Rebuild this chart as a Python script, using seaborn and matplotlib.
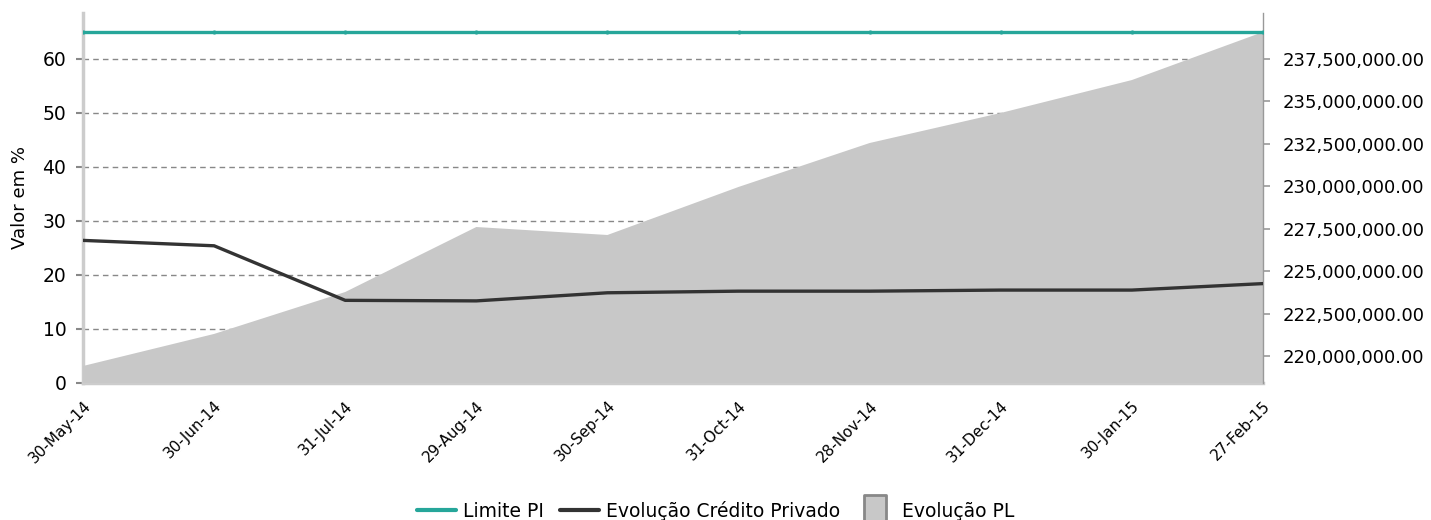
import numpy as np
import pandas as pd
import matplotlib
matplotlib.use("Agg")
import matplotlib.pyplot as plt
import seaborn as sns
from matplotlib.lines import Line2D
from matplotlib.ticker import FuncFormatter

# data
datas = ["30-May-14", "30-Jun-14", "31-Jul-14", "29-Aug-14", "30-Sep-14",
         "31-Oct-14", "28-Nov-14", "31-Dec-14", "30-Jan-15", "27-Feb-15"]
limite_pl = [65, 65, 65, 65, 65, 65, 65, 65, 65, 65]
credito_privado = [26.4, 25.4, 15.3, 15.2, 16.7, 17.0, 17.0, 17.2, 17.2, 18.4]
evolucao_pl = [219.41e6, 221.30e6, 223.77e6, 227.60e6, 227.13e6,
               229.96e6, 232.55e6, 234.32e6, 236.26e6, 239.09e6]

df = pd.DataFrame({"pos": np.arange(len(datas)), "data": datas,
                   "limite": limite_pl, "credito": credito_privado, "pl": evolucao_pl})

sns.set_style("white")
plt.rcParams["font.family"] = ["DejaVu Sans"]
plt.rcParams["text.color"] = "black"
plt.rcParams["axes.labelcolor"] = "black"

teal = "#26a69a"
dark = "#333333"
area = "#c8c8c8"

fig = plt.figure(figsize=(14.31, 5.2), dpi=100)
ax = fig.add_axes([0.058, 0.2635, 0.8246, 0.7115])

# bottom layer: grid on the percent axis
ax.set_ylim(0, 68.5)
ax.set_xlim(0, len(datas) - 1)
ax.set_yticks([0, 10, 20, 30, 40, 50, 60])
for v in [10, 20, 30, 40, 50, 60]:
    ax.axhline(v, color="#888888", linestyle=(0, (4, 3)), linewidth=1, zorder=0)

# middle layer: patrimonio area on the right axis
ax2 = ax.twinx()
ax2.fill_between(df["pos"], 0, df["pl"], color=area, linewidth=0)
ax2.set_ylim(218.41e6, 240.21e6)
ax2.set_yticks([220e6, 222.5e6, 225e6, 227.5e6, 230e6, 232.5e6, 235e6, 237.5e6])
ax2.yaxis.set_major_formatter(FuncFormatter(lambda v, p: f"{v:,.2f}"))

# top layer: the percent lines
ax3 = ax.twinx()
ax3.set_ylim(0, 68.5)
sns.lineplot(data=df, x="pos", y="limite", ax=ax3, color=teal, linewidth=2.4,
             marker="o", markersize=3, markeredgewidth=0)
sns.lineplot(data=df, x="pos", y="credito", ax=ax3, color=dark, linewidth=2.4)
ax3.set_xlim(0, len(datas) - 1)
ax3.set_yticks([])
ax3.set_ylabel("")
ax3.set_xlabel("")
for s in ax3.spines.values():
    s.set_visible(False)

ax.set_xticks(df["pos"])
ax.set_xticklabels(datas, rotation=45, ha="right", rotation_mode="anchor", fontsize=11)
ax.tick_params(axis="x", length=5, width=1.5, color="#888888", labelcolor="black", pad=6)
ax.tick_params(axis="y", length=5, width=1.5, color="#888888", labelcolor="black",
               labelsize=13.5, pad=7)
ax2.tick_params(axis="y", length=5, width=1.2, color="#999999", labelcolor="black",
                labelsize=13, pad=9)
ax.set_ylabel("Valor em %", fontsize=13, labelpad=10)

for a in (ax, ax2):
    a.spines["top"].set_visible(False)
ax.spines["left"].set_color("#cccccc")
ax.spines["left"].set_linewidth(2.5)
ax.spines["bottom"].set_color("#cccccc")
ax.spines["bottom"].set_linewidth(2.5)
ax.spines["right"].set_visible(False)
ax2.spines["left"].set_visible(False)
ax2.spines["bottom"].set_visible(False)
ax2.spines["right"].set_color("#999999")
ax2.spines["right"].set_linewidth(1)

tall_box = [(-0.4, -0.55), (0.4, -0.55), (0.4, 0.55), (-0.4, 0.55), (-0.4, -0.55)]
handles = [Line2D([0], [0], color=teal, linewidth=3),
           Line2D([0], [0], color=dark, linewidth=3),
           Line2D([0], [0], linestyle="none", marker=tall_box, markersize=22,
                  markerfacecolor=area, markeredgecolor="#888888", markeredgewidth=2)]
fig.legend(handles, ["Limite PI", "Evolução Crédito Privado", "Evolução PL"],
           loc="center", bbox_to_anchor=(0.5, 0.018), ncol=3, frameon=False,
           fontsize=13.5, handlelength=2.1, handletextpad=0.35, columnspacing=0.85)

fig.savefig("out.png", dpi=100)
